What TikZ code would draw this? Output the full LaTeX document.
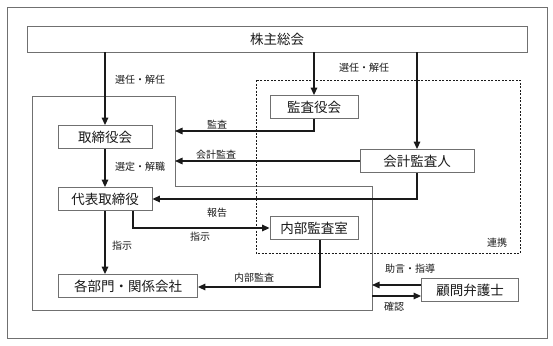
\documentclass[tikz,border=0pt]{standalone}
\usepackage{fontspec}
\setmainfont{Noto Sans CJK JP}
\usetikzlibrary{positioning, calc, arrows.meta}
\definecolor{Dark}{HTML}{1A1A1A}
\definecolor{Frame}{HTML}{707070}
\definecolor{White}{HTML}{FFFFFF}
\tikzset{
    orgnode/.style={rectangle, draw=Frame, line width=0.8pt, fill=White, text=Dark, minimum height=23pt, inner sep=0pt, font=\fontsize{13.5}{15}\selectfont},
    tagnode/.style={text=Dark, inner sep=0pt, font=\fontsize{10}{12}\selectfont},
    arrow/.style={-{Triangle[length=7.5pt, width=6.5pt]}, line width=1.4pt, color=Dark},
}

\begin{document}
\begin{tikzpicture}[x=1pt, y=-1pt]
            \useasboundingbox (0,0) rectangle (553,345);
            % Cornici
            \draw[Frame, line width=0.8pt] (7,7) rectangle (547,338);
            \draw[Frame, line width=0.8pt] (32,96) -- (175,96) -- (175,186) -- (372,186) -- (372,310) -- (32,310) -- cycle;
            \draw[Dark, dash pattern=on 2pt off 1.5pt, line width=0.6pt] (256,80) rectangle (520,253);
            \coordinate (boardE) at (175,0);
            \coordinate (groupE) at (372,0);
            
            % Organi
            \node[orgnode, minimum width=500pt, minimum height=26pt] (soukai) at (277,39) {株主総会};
            \node[orgnode, minimum width=94pt] (torikai) at (105,137) {取締役会};
            \node[orgnode, minimum width=88pt] (kansa) at (314,107) {監査役会};
            \node[orgnode, minimum width=114pt] (kaikei) at (417,161) {会計監査人};
            \node[orgnode, minimum width=94pt] (daihyo) at (105,199) {代表取締役};
            \node[orgnode, minimum width=88pt] (naibu) at (314,228) {内部監査室};
            \node[orgnode, minimum width=139pt] (kakubu) at (128,286) {各部門・関係会社};
            \node[orgnode, minimum width=97pt] (komon) at (470,290) {顧問弁護士};
            
            % Frecce
            \draw[arrow] (soukai.south -| torikai.north) -- (torikai.north);
            \draw[arrow] (soukai.south -| kansa.north) -- (kansa.north);
            \draw[arrow] (soukai.south -| kaikei.north) -- (kaikei.north);
            \draw[arrow] (kansa.south) |- (boardE |- 0,131);
            \draw[arrow] (kaikei.west) -- (kaikei.west -| boardE);
            \draw[arrow] (torikai.south) -- (daihyo.north);
            \draw[arrow] (kaikei.south) |- (daihyo.east);
            \draw[arrow] ([xshift=28pt]daihyo.south) |- (naibu.west);
            \draw[arrow] (daihyo.south) -- (kakubu.north -| daihyo.south);
            \draw[arrow] ([xshift=6pt]naibu.south) |- (kakubu.east |- 0,287);
            \draw[arrow] ([yshift=5pt]komon.west) -- ([yshift=5pt]komon.west -| groupE);
            \draw[arrow] ([yshift=-6pt]komon.west -| groupE) -- ([yshift=-6pt]komon.west);
            
            % Etichette
            \node[tagnode] (l1) at (140,80) {選任・解任};
            \node[tagnode] (l2) at (364,68) {選任・解任};
            \node[tagnode] (l3) at (217,125) {監査};
            \node[tagnode] (l4) at (216,155) {会計監査};
            \node[tagnode] (l5) at (140,167) {選定・解職};
            \node[tagnode] (l6) at (217,213) {報告};
            \node[tagnode] (l7) at (200,237) {指示};
            \node[tagnode] (l8) at (122,246) {指示};
            \node[tagnode] (l9) at (254,278) {内部監査};
            \node[tagnode] (l10) at (497,243) {連携};
            \node[tagnode] (l11) at (410,269) {助言・指導};
            \node[tagnode] (l12) at (394,307) {確認};
        \end{tikzpicture}
\end{document}
